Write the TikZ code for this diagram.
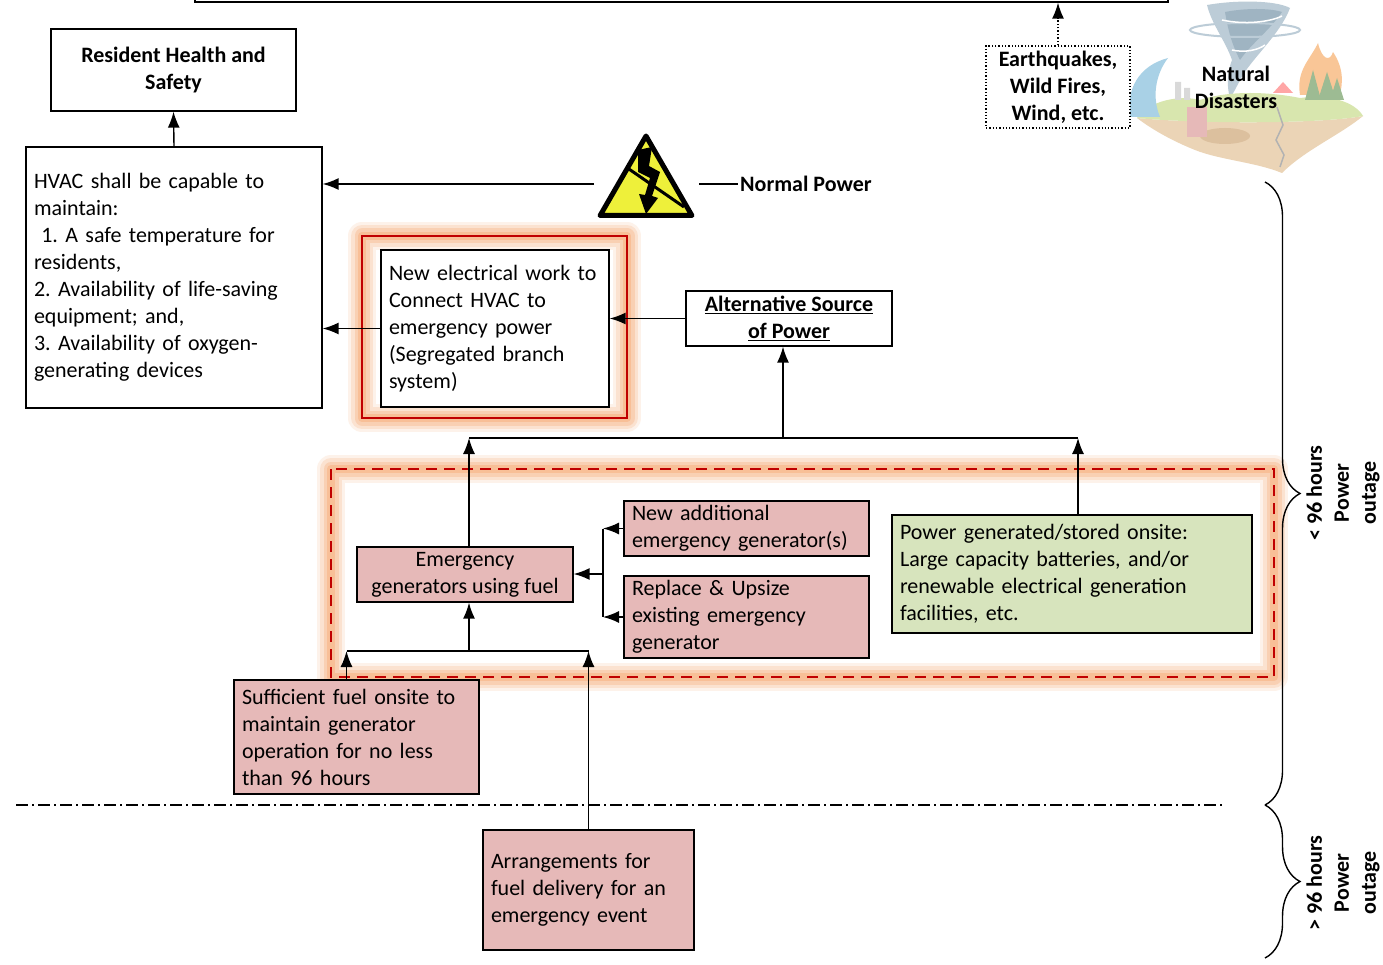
\documentclass[tikz,border=0pt]{standalone}
\usepackage{fontspec}
\setmainfont{Carlito}
\usepackage{tikz}
\usetikzlibrary{arrows.meta,shapes.geometric,decorations.pathreplacing}
\definecolor{pinkfill}{HTML}{E6B9B8}
\definecolor{greenfill}{HTML}{D7E4BD}
\definecolor{redline}{HTML}{C00000}
\definecolor{glowc}{HTML}{F7A46B}
\definecolor{warnyellow}{HTML}{EEF03A}
\definecolor{tornado}{HTML}{BCCCD7}
\definecolor{tornadodk}{HTML}{9FB4C2}
\definecolor{wave}{HTML}{A9D1E6}
\definecolor{grass}{HTML}{D8E6AE}
\definecolor{earth}{HTML}{EBD4B6}
\definecolor{earthdk}{HTML}{DCC09E}
\definecolor{flame}{HTML}{F9C697}
\definecolor{tree}{HTML}{9DBB93}
\newcommand{\bodyfont}{\fontsize{22}{27}\selectfont\frenchspacing}
\tikzstyle{plainbox}=[draw=black,line width=1.3pt,fill=white,
                      inner xsep=8pt,inner ysep=0pt]
\tikzstyle{pinkbox}=[plainbox,fill=pinkfill]
\tikzstyle{greenbox}=[plainbox,fill=greenfill]
\tikzstyle{titlebox}=[plainbox,font=\bodyfont\bfseries,align=center]
\tikzstyle{textbox}=[font=\bodyfont,align=left]
\tikzstyle{arr}=[line width=1.4pt,-{Latex[length=16pt,width=12pt]}]
\tikzstyle{link}=[line width=1.4pt]
\tikzstyle{glowline}=[draw=glowc,line cap=round,line join=round]
\tikzstyle{redframe}=[draw=redline,line width=2.6pt]

\begin{document}
\begin{tikzpicture}[x=1pt,y=-1pt]
    \newcommand{\glowbox}[2]{%
      \foreach \lw/\op in {28/0.14,22/0.2,15/0.28,8/0.38}
        \draw[glowline,line width=\lw pt,opacity=\op] #1 rectangle #2;}
    \useasboundingbox (0,0) rectangle (1383,965);
    \fill[white] (0,0) rectangle (1383,965);

    \node (topbox) at (681.5,-20) [plainbox,minimum width=973pt,minimum height=44pt]{};

    \fill[tornado] (1207,5) .. controls (1235,0) and (1275,0) .. (1290,8)
        .. controls (1280,35) and (1250,60) .. (1240,80)
        .. controls (1236,88) and (1233,94) .. (1230,98)
        .. controls (1226,85) and (1228,70) .. (1232,60)
        .. controls (1225,40) and (1212,25) .. (1207,5) -- cycle;
    \fill[tornadodk] (1225,12) .. controls (1245,8) and (1270,8) .. (1282,12)
        .. controls (1270,30) and (1250,45) .. (1240,60)
        .. controls (1232,45) and (1228,30) .. (1225,12) -- cycle;
    \draw[tornado,line width=2pt] (1245,30) ellipse (55pt and 7pt);
    \draw[white,line width=1.5pt] (1222,20) .. controls (1245,25) and (1270,22) .. (1282,16);
    \draw[white,line width=1.5pt] (1232,50) .. controls (1245,53) and (1258,50) .. (1265,45);
    \fill[earth] (1137,118) .. controls (1200,124) and (1320,124) .. (1363,116)
        .. controls (1340,135) and (1305,150) .. (1282,173)
        .. controls (1255,162) and (1220,160) .. (1195,150)
        .. controls (1170,140) and (1150,128) .. (1137,118) -- cycle;
    \fill[earthdk] (1225,136) ellipse (25pt and 8pt);
    \fill[grass] (1137,118) .. controls (1150,100) and (1180,95) .. (1200,100)
        .. controls (1230,90) and (1270,92) .. (1300,98)
        .. controls (1330,94) and (1355,102) .. (1363,116)
        .. controls (1320,124) and (1200,124) .. (1137,118) -- cycle;
    \fill[wave] (1130,117) .. controls (1126,90) and (1138,66) .. (1168,58)
        .. controls (1155,75) and (1152,98) .. (1160,117) -- cycle;
    \fill[flame] (1300,95) .. controls (1296,70) and (1310,60) .. (1318,43)
        .. controls (1322,60) and (1330,62) .. (1333,52)
        .. controls (1345,70) and (1342,85) .. (1340,95) -- cycle;
    \fill[tree] (1305,100) -- (1313,70) -- (1321,100) -- cycle;
    \fill[tree] (1318,100) -- (1327,72) -- (1336,100) -- cycle;
    \fill[tree] (1330,100) -- (1337,78) -- (1344,100) -- cycle;
    \fill[pinkfill] (1187,107) rectangle (1207,137);
    \fill[red!35] (1273,93) -- (1283,82) -- (1293,93) -- cycle;
    \fill[gray!30] (1175,100) rectangle (1181,82) (1184,100) rectangle (1190,88);
    \draw[gray!60,line width=1.5pt] (1277,107) -- (1283,125) -- (1276,140)
        -- (1284,155) -- (1280,167);
    \node (nature) at (1236,87) [font=\bodyfont\bfseries,align=center]{Natural\\Disasters};

    \glowbox{(362,236)}{(627,418)}
    \glowbox{(331,469)}{(1274,677)}

    \node (rhs) at (173.5,70) [titlebox,minimum width=245pt,minimum height=82pt]
        {Resident Health and\\Safety};
    \node (hvac) at (174,277.5) [plainbox,textbox,text width=280pt,minimum height=261pt]
        {HVAC shall be capable to\\maintain:\\\ 1. A safe temperature for\\residents,\\2. Availability of life-saving\\equipment; and,\\3. Availability of oxygen-\\generating devices};
    \node (warn) at (646,189) [regular polygon,regular polygon sides=3,minimum size=106pt,
        inner sep=0pt,draw=black,line width=5pt,line join=round,fill=warnyellow]{};
    \fill[black] (638,150) -- (652,147) -- (649,166) -- (660,172) -- (652,196)
        -- (658,198) -- (646,214) -- (639,194) -- (645,195) -- (650,178)
        -- (638,172) -- cycle;
    \draw[line width=3pt] (626,167) -- (684,207);
    \node (normal) at (740,184) [anchor=west,font=\bodyfont\bfseries,inner sep=0pt]{Normal Power};
    \node (newwork) at (495,328.5) [plainbox,textbox,text width=212pt,minimum height=157pt]
        {New electrical work to\\Connect HVAC to\\emergency power\\(Segregated branch\\system)};
    \node (altsrc) at (789,318.5) [titlebox,minimum width=206pt,minimum height=55pt]
        {\underline{Alternative Source}\\\underline{of Power}};
    \node (quake) at (1058,87) [titlebox,dotted,minimum width=144pt,minimum height=82pt]
        {Earthquakes,\\Wild Fires,\\Wind, etc.};

    \node (emgen) at (465,574.5) [pinkbox,font=\bodyfont,align=center,
        minimum width=216pt,minimum height=55pt]{Emergency\\generators using fuel};
    \node (newgen) at (746.5,528.5) [pinkbox,textbox,text width=229pt,minimum height=55pt]
        {New additional\\emergency generator(s)};
    \node (upsize) at (746.5,617) [pinkbox,textbox,text width=229pt,minimum height=82pt]
        {Replace \& Upsize\\existing emergency\\generator};
    \node (green) at (1072,574) [greenbox,textbox,text width=344pt,minimum height=118pt]
        {Power generated/stored onsite:\\Large capacity batteries, and/or\\renewable electrical generation\\facilities, etc.};
    \node (fuel) at (356.5,737) [pinkbox,textbox,text width=229pt,minimum height=114pt]
        {Sufficient fuel onsite to\\maintain generator\\operation for no less\\than 96 hours};
    \node (deliver) at (588.5,890) [pinkbox,textbox,text width=195pt,minimum height=120pt]
        {Arrangements for\\fuel delivery for an\\emergency event};

    \draw[redframe] (362,236) rectangle (627,418);
    \draw[redframe,dash pattern=on 11pt off 7pt] (331,469) rectangle (1274,677);

    \coordinate (wl) at (594,184);
    \coordinate (wr) at (699,184);
    \coordinate (bus) at (783,438);
    \coordinate (brk) at (603,574);
    \coordinate (fbus) at (469,651);
    \coordinate (dl) at (16,805);
    \coordinate (dr) at (1222,805);
    \coordinate (b1) at (1265,182);
    \coordinate (b2) at (1265,805);
    \coordinate (b3) at (1265,958);

    \draw[arr] (hvac.north) -- (rhs.south);
    \draw[arr] (wl) -- (hvac.east |- wl);
    \draw[link] (wr) -- ([xshift=-2pt]normal.west);
    \draw[arr] (newwork.west) -- (hvac.east |- newwork.west);
    \draw[arr] (altsrc.west) -- (newwork.east |- altsrc.west);
    \draw[arr,dotted] (quake.north) -- (quake.north |- topbox.south);

    \draw[arr] ([xshift=4pt]emgen.north) -- ([xshift=4pt]emgen.north |- bus);
    \draw[arr] ([xshift=6pt]green.north) -- ([xshift=6pt]green.north |- bus);
    \draw[link] ([xshift=4pt]emgen.north |- bus) -- ([xshift=6pt]green.north |- bus);
    \draw[arr] (bus) -- (bus |- altsrc.south);

    \draw[arr] (newgen.west) -- (newgen.west -| brk);
    \draw[arr] (upsize.west) -- (upsize.west -| brk);
    \draw[link] (newgen.west -| brk) -- (upsize.west -| brk);
    \draw[arr] (brk) -- (emgen.east |- brk);

    \draw[arr] (fbus) -- ([xshift=4pt]emgen.south);
    \draw[arr] ([xshift=-10pt]fuel.north) -- ([xshift=-10pt]fuel.north |- fbus);
    \draw[arr] (deliver.north) -- (deliver.north |- fbus);
    \draw[link] ([xshift=-10pt]fuel.north |- fbus) -- (deliver.north |- fbus);

    \draw[link,dash pattern=on 12pt off 4pt on 2pt off 4pt] (dl) -- (dr);

    \draw[link,decorate,decoration={brace,amplitude=35pt}] (b1) -- (b2);
    \draw[link,decorate,decoration={brace,amplitude=35pt}] (b2) -- (b3);
    \node (lt96) at (1343,493) [rotate=90,font=\bodyfont\bfseries,align=center]
        {< 96 hours\\Power\\outage};
    \node (gt96) at (1343,883) [rotate=90,font=\bodyfont\bfseries,align=center]
        {> 96 hours\\Power\\outage};
\end{tikzpicture}
\end{document}
